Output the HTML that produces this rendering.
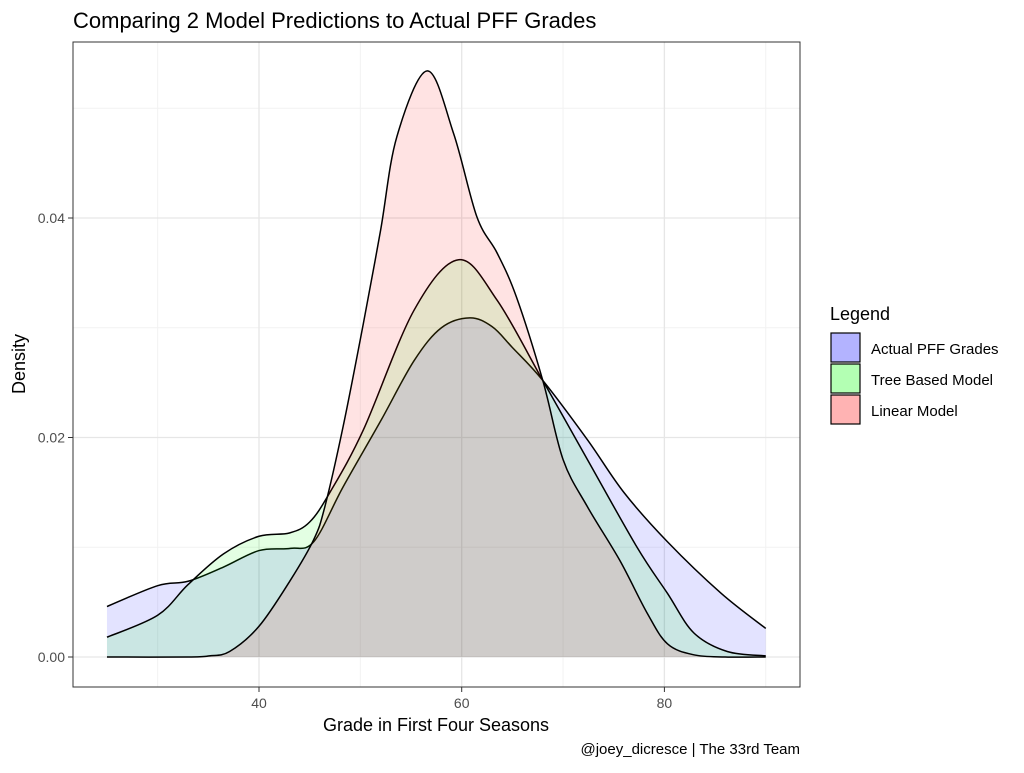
<!DOCTYPE html>
<html><head><meta charset="utf-8"><style>
body{margin:0;background:#fff;font-family:"Liberation Sans",sans-serif}
</style></head><body>
<svg width="1024" height="768" xmlns="http://www.w3.org/2000/svg" font-family="Liberation Sans, sans-serif">
<rect width="1024" height="768" fill="#fff"/>
<text x="73" y="28" font-size="22" fill="#000">Comparing 2 Model Predictions to Actual PFF Grades</text>
<g id="grid"></g>
<g id="areas"></g>
<rect x="73" y="42" width="727" height="645" fill="none" stroke="#333" stroke-width="1"/>
<g id="ticks"></g>
<text x="436" y="731" font-size="18" text-anchor="middle">Grade in First Four Seasons</text>
<text transform="translate(25,364) rotate(-90)" font-size="18" text-anchor="middle">Density</text>
<g>
<text x="830" y="320" font-size="18">Legend</text>
<g><rect x="831" y="333" width="29" height="29" fill="#b3b3ff" stroke="#000" stroke-width="1.2"/><text x="871" y="354" font-size="15">Actual PFF Grades</text></g>
<g><rect x="831" y="364" width="29" height="29" fill="#b3ffb3" stroke="#000" stroke-width="1.2"/><text x="871" y="385" font-size="15">Tree Based Model</text></g>
<g><rect x="831" y="395" width="29" height="29" fill="#ffb3b3" stroke="#000" stroke-width="1.2"/><text x="871" y="416" font-size="15">Linear Model</text></g>
</g>
<text x="800" y="754" font-size="15" text-anchor="end">@joey_dicresce | The 33rd Team</text>
</svg>
<script>
const actualX=[25,30,33,36.5,40,43.1,45.4,48.3,52,55.3,58,60.8,63,65,68,72.4,76,80.3,85.6,90];
const actualY=[0.0046,0.0065,0.0069,0.0082,0.0097,0.0099,0.0105,0.0155,0.0215,0.0270,0.0300,0.0309,0.0301,0.0282,0.0252,0.0198,0.0150,0.0105,0.0058,0.0026];
const treeX=[25,30,33,36.5,40,43,45,47,50.3,55.3,59.7,63.5,68,72.4,77.3,80.3,82.9,86.2,90];
const treeY=[0.0018,0.0038,0.0066,0.0094,0.0110,0.0113,0.0123,0.0150,0.0207,0.0316,0.0362,0.0325,0.0252,0.0180,0.0100,0.0058,0.0022,0.0005,0.0001];
const linX=[25,33,35.1,37.1,40,43.1,45.4,46.5,48.3,50.3,52,53.6,56.6,59.2,61.5,63.5,65.4,68,70,72.4,75.6,78.3,80.3,82.9,86,90];
const linY=[0,0,0.0001,0.0005,0.0028,0.0070,0.0107,0.0137,0.0210,0.0304,0.0389,0.0474,0.0534,0.0477,0.0401,0.0368,0.0328,0.0252,0.0180,0.0137,0.0088,0.0040,0.0012,0.0002,0,0];
const xTicks=[40,60,80];
const yTicks=[0,0.02,0.04];
const xMinor=[30,50,70,90];
const yMinor=[0.01,0.03,0.05];
const X=v=>259+(v-40)*10.135;
const Y=v=>657-v*10975;
const NS="http://www.w3.org/2000/svg";
const grid=document.getElementById('grid'),ticks=document.getElementById('ticks'),areas=document.getElementById('areas');
function ln(g,x1,y1,x2,y2,c,w){const l=document.createElementNS(NS,'line');l.setAttribute('x1',x1);l.setAttribute('y1',y1);l.setAttribute('x2',x2);l.setAttribute('y2',y2);l.setAttribute('stroke',c);l.setAttribute('stroke-width',w);g.appendChild(l);return l;}
xMinor.forEach(v=>{const l=ln(grid,X(v),42,X(v),687,'#f2f2f2',1);

});
yMinor.forEach(v=>{const l=ln(grid,73,Y(v),800,Y(v),'#f2f2f2',1);

});
xTicks.forEach(v=>{const l=ln(grid,X(v),42,X(v),687,'#e6e6e6',1.3);


ln(ticks,X(v),687,X(v),692,'#333',1);
const t=document.createElementNS(NS,'text');t.setAttribute('x',X(v));t.setAttribute('y',708);t.setAttribute('font-size','14');t.setAttribute('fill','#4d4d4d');t.setAttribute('text-anchor','middle');t.textContent=v;


ticks.appendChild(t);});
yTicks.forEach(v=>{const l=ln(grid,73,Y(v),800,Y(v),'#e6e6e6',1.3);


ln(ticks,68,Y(v),73,Y(v),'#333',1);
const t=document.createElementNS(NS,'text');t.setAttribute('x',65);t.setAttribute('y',Y(v)+5);t.setAttribute('font-size','14');t.setAttribute('fill','#4d4d4d');t.setAttribute('text-anchor','end');t.textContent=v.toFixed(2);


ticks.appendChild(t);});
function curve(xs,ys){const p=xs.map((x,i)=>[X(x),Y(ys[i])]);let d='M'+p[0][0]+','+p[0][1];
for(let i=0;i<p.length-1;i++){const p0=p[Math.max(0,i-1)],p1=p[i],p2=p[i+1],p3=p[Math.min(p.length-1,i+2)];
const c1=[p1[0]+(p2[0]-p0[0])/6,p1[1]+(p2[1]-p0[1])/6],c2=[p2[0]-(p3[0]-p1[0])/6,p2[1]-(p3[1]-p1[1])/6];
d+=' C'+c1[0]+','+c1[1]+' '+c2[0]+','+c2[1]+' '+p2[0]+','+p2[1];}return {d,p};}
function area(xs,ys,fill,name){const c=curve(xs,ys);const a=document.createElementNS(NS,'path');
a.setAttribute('d',c.d+' L'+c.p[c.p.length-1][0]+','+Y(0)+' L'+c.p[0][0]+','+Y(0)+' Z');
a.setAttribute('fill',fill);a.setAttribute('fill-opacity','0.11');


areas.appendChild(a);
const l=document.createElementNS(NS,'path');l.setAttribute('d',c.d);l.setAttribute('fill','none');l.setAttribute('stroke','#000');l.setAttribute('stroke-width','1.5');


areas.appendChild(l);}
area(actualX,actualY,'#0000ff','actual-pff');
area(treeX,treeY,'#00ff00','tree-model');
area(linX,linY,'#ff0000','linear-model');
</script>
</body></html>
